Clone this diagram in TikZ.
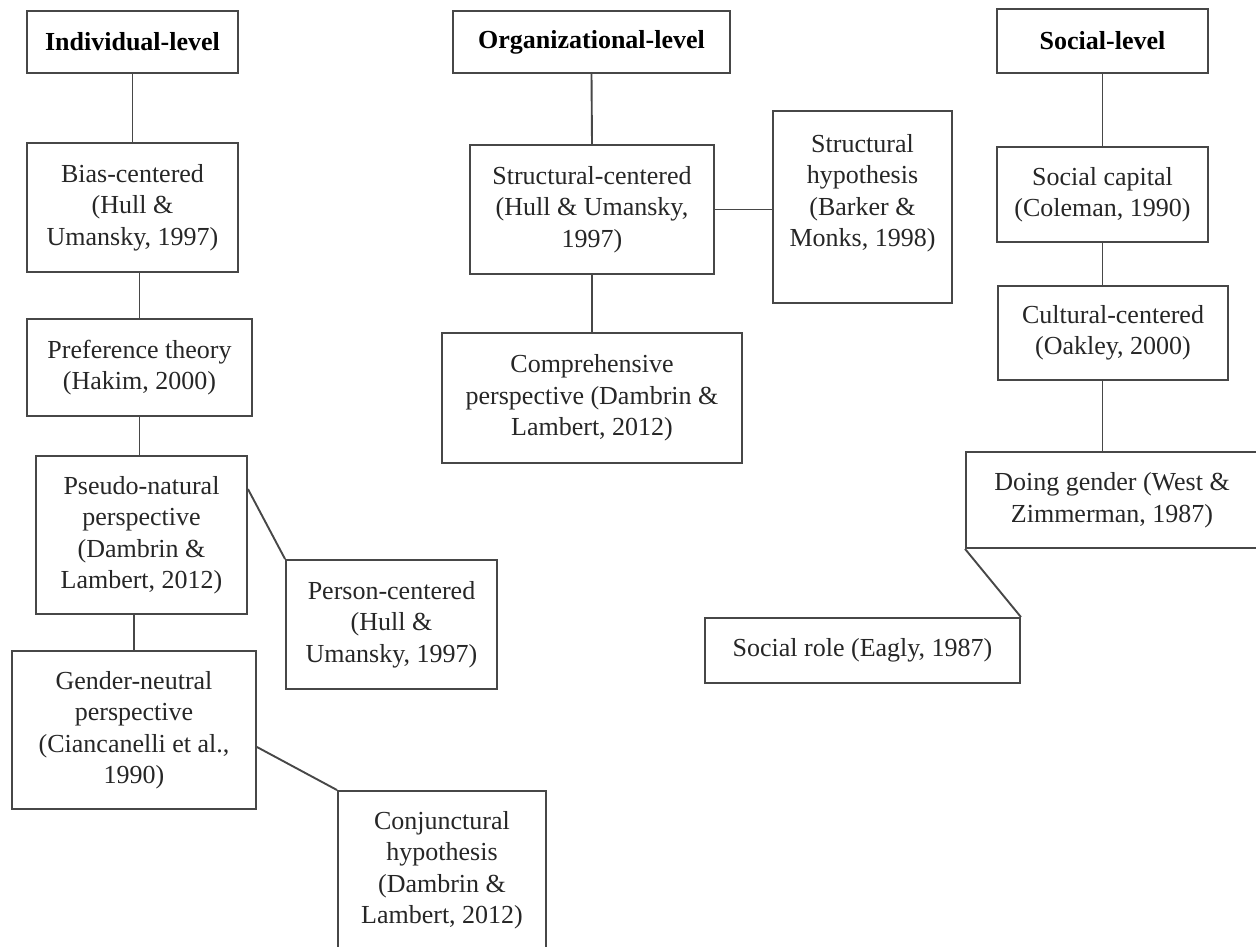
\documentclass[tikz,border=0pt]{standalone}
\usepackage{fontspec}
\setmainfont{Liberation Serif}
\usetikzlibrary{calc}
\begin{document}
\begin{tikzpicture}[x=1pt,y=-1pt,
  box/.style={draw=black!72, line width=1.9pt, rectangle, inner sep=0pt,
    align=center, text=black!85, font=\fontsize{26}{31.5}\selectfont},
  headbox/.style={box, text=black, font=\fontsize{26}{31.5}\selectfont\bfseries},
  plaintext/.style={inner sep=0pt, align=center, text=black!85, font=\fontsize{26}{31.5}\selectfont},
  link/.style={draw=black!72, line width=1.9pt}]
\useasboundingbox (0,0) rectangle (1256,946);
% Individual level
\node[headbox, minimum width=211, minimum height=62] (ind) at (132.5,42) {Individual-level};
\node[box, minimum width=211, minimum height=129] (bias) at (132.5,207.5) {Bias-centered\\(Hull \&\\Umansky, 1997)};
\node[box, minimum width=225, minimum height=97] (pref) at (139.5,367.5) {Preference theory\\(Hakim, 2000)};
\node[box, minimum width=211, minimum height=158] (pseudo) at (141.5,535) {Pseudo-natural\\perspective\\(Dambrin \&\\Lambert, 2012)};
\node[box, minimum width=211, minimum height=129] (person) at (391.5,624.5) {Person-centered\\(Hull \&\\Umansky, 1997)};
\node[box, minimum width=244, minimum height=158] (gender) at (134,730) {Gender-neutral\\perspective\\(Ciancanelli et al.,\\1990)};
\node[box, minimum width=208, minimum height=158] (conj) at (442,870) {Conjunctural\\hypothesis\\(Dambrin \&\\Lambert, 2012)};
% Organizational level
\node[headbox, minimum width=277, minimum height=62] (org) at (591.5,42) {Organizational-level};
\node[box, minimum width=244, minimum height=129] (structC) at (592,209.5) {Structural-centered\\(Hull \& Umansky,\\1997)};
\node[box, minimum width=179, minimum height=192] (structH) at (862.5,207) {};
\node[plaintext] (structHt) at (862.5,193) {Structural\\hypothesis\\(Barker \&\\Monks, 1998)};
\node[box, minimum width=300, minimum height=130] (comp) at (592,398) {Comprehensive\\perspective (Dambrin \&\\Lambert, 2012)};
% Social level
\node[headbox, minimum width=211, minimum height=64] (social) at (1102.5,41) {Social-level};
\node[box, minimum width=211, minimum height=95] (capital) at (1102.5,194.5) {Social capital\\(Coleman, 1990)};
\node[box, minimum width=230, minimum height=94] (cultural) at (1113,333) {Cultural-centered\\(Oakley, 2000)};
\node[box, minimum width=292, minimum height=96] (doing) at (1112,500) {Doing gender (West \&\\Zimmerman, 1987)};
\node[box, minimum width=315, minimum height=65] (socrole) at (862.5,650.5) {Social role (Eagly, 1987)};
% connectors
\draw[link] (ind.south) -- (bias.north);
\draw[link] (bias.south -| pref.north) -- (pref.north);
\draw[link] (pref.south) -- (pref.south |- pseudo.north);
\draw[link] (gender.north |- pseudo.south) -- (gender.north);
\draw[link] ($(pseudo.north east)+(0,34)$) -- (person.north west);
\draw[link] ($(gender.east)+(0,17)$) -- (conj.north west);
\draw[link] (org.south) -- (structC.north);
\draw[link] (structC.east) -- (structC.east -| structH.west);
\draw[link] (structC.south) -- (comp.north);
\draw[link] (social.south) -- (capital.north);
\draw[link] (capital.south) -- (capital.south |- cultural.north);
\draw[link] (capital.south |- cultural.south) -- (capital.south |- doing.north);
\draw[link] (doing.south west) -- (socrole.north east);
\end{tikzpicture}
\end{document}
